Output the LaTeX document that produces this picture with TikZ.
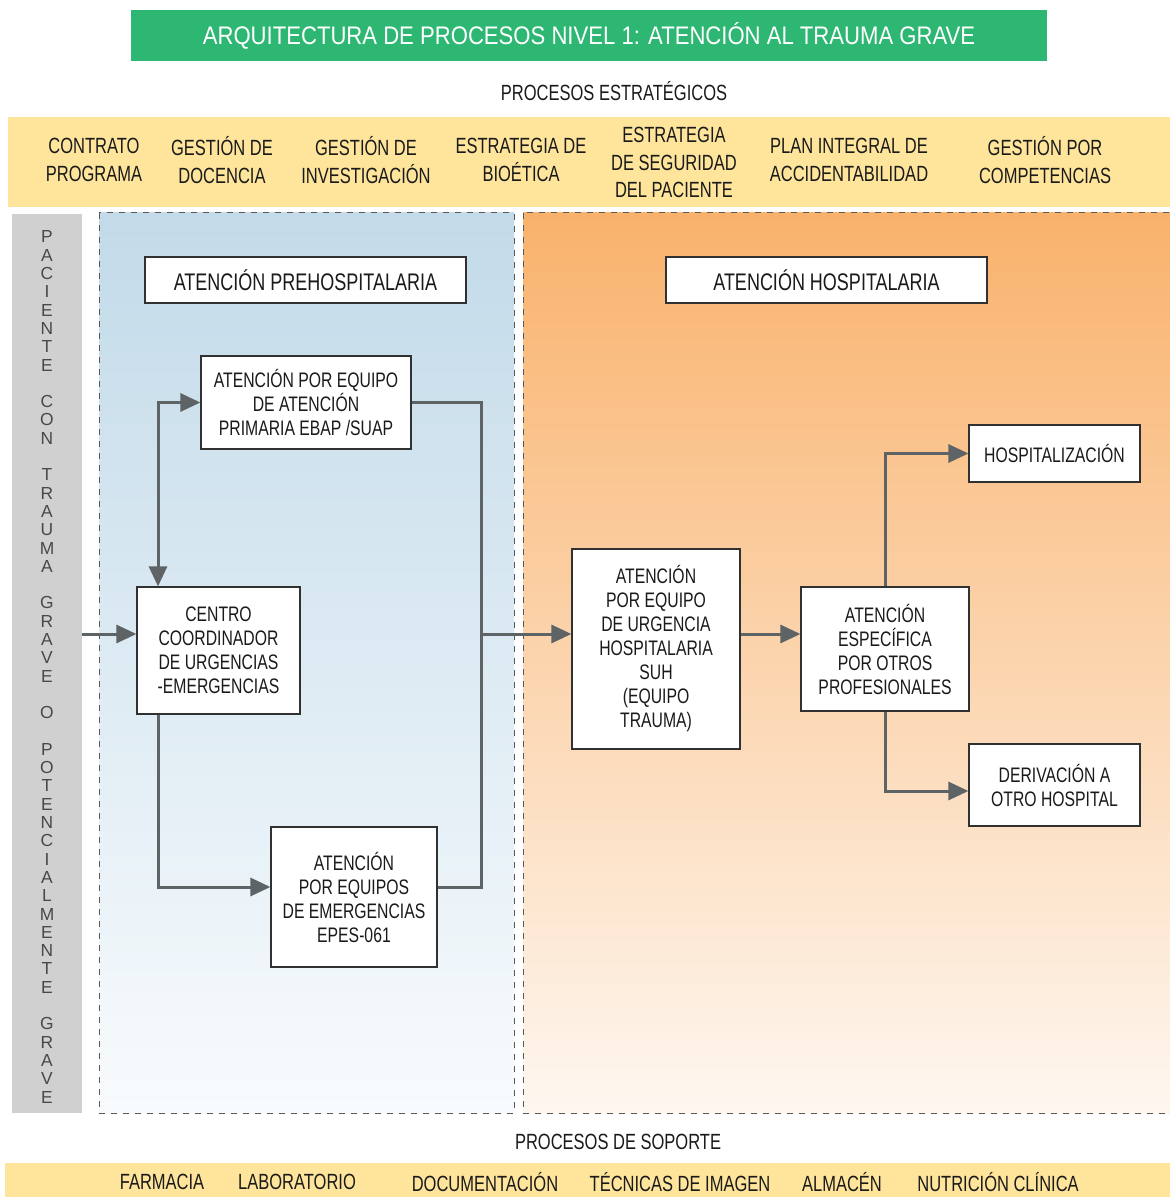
\documentclass[tikz,border=0pt]{standalone}
\usepackage{fontspec}
\setmainfont[FakeStretch=0.75]{Liberation Sans}
\newfontfamily\tirafont{Liberation Sans}
\newfontfamily\titfont[FakeStretch=0.87]{Liberation Sans}
\usetikzlibrary{arrows.meta}
\definecolor{verdetit}{HTML}{2DB773}
\definecolor{amarillo}{HTML}{FEE59B}
\definecolor{grisfranja}{HTML}{D0D0D0}
\definecolor{azul}{HTML}{C2DAE9}
\definecolor{azulclaro}{HTML}{F8FBFD}
\definecolor{naranja}{HTML}{F9B26C}
\definecolor{naranjaclaro}{HTML}{FEF7F0}
\definecolor{gris}{HTML}{5E6366}
\definecolor{texto}{HTML}{1A1A1A}
\tikzset{
  caja/.style={draw=texto!90, fill=white, line width=0.6pt, align=center, inner sep=1pt,
    text=texto, font=\fontsize{10.5}{12}\selectfont},
  cabecera/.style={caja, font=\fontsize{12}{14}\selectfont},
  item/.style={align=center, text=texto, font=\fontsize{11}{13.6}\selectfont},
  punta/.tip={Triangle[length=10pt,width=9pt]},
  linea/.style={draw=gris, line width=1.5pt},
  flecha/.style={linea, -punta},
  zona/.style={draw=gray!70!black, dashed, line width=0.5pt}
}
\begin{document}
\begin{tikzpicture}[x=0.5pt,y=-0.5pt]
\useasboundingbox (0,0) rectangle (1170,1197);
% titulo y procesos estrategicos
\node[fill=verdetit, minimum width=458pt, minimum height=25.5pt, inner sep=0, text=white,
  font={\titfont\fontsize{12.7}{14}\selectfont}] (titulo) at (589,35.5)
  {ARQUITECTURA DE PROCESOS NIVEL 1: ATENCIÓN AL TRAUMA GRAVE};
\node[item] (estrat) at (614,91) {PROCESOS ESTRATÉGICOS};
\fill[amarillo] (8,117) rectangle (1170,207);
\node[item] (contrato) at (94,160) {CONTRATO\\PROGRAMA};
\node[item] (docencia) at (222,160) {GESTIÓN DE\\DOCENCIA};
\node[item] (investig) at (366,160) {GESTIÓN DE\\INVESTIGACIÓN};
\node[item] (bioetica) at (521,160) {ESTRATEGIA DE\\BIOÉTICA};
\node[item] (seguridad) at (674,162.5) {ESTRATEGIA\\DE SEGURIDAD\\DEL PACIENTE};
\node[item] (accident) at (849,160) {PLAN INTEGRAL DE\\ACCIDENTABILIDAD};
\node[item] (compet) at (1045,160) {GESTIÓN POR\\COMPETENCIAS};
% zonas
\draw[zona, top color=azul, bottom color=azulclaro] (99,213) rectangle (514,1113);
\draw[zona, top color=naranja, bottom color=naranjaclaro] (523,213) rectangle (1170,1113);
\fill[grisfranja] (12,214) rectangle (82,1113);
\node[inner sep=0, align=center, text=texto!80, font={\tirafont\fontsize{8.7}{9.15}\selectfont}] (tira) at (47,667)
  {P\\A\\C\\I\\E\\N\\T\\E\\~\\C\\O\\N\\~\\T\\R\\A\\U\\M\\A\\~\\G\\R\\A\\V\\E\\~\\O\\~\\P\\O\\T\\E\\N\\C\\I\\A\\L\\M\\E\\N\\T\\E\\~\\G\\R\\A\\V\\E};
% cajas
\node[cabecera, minimum width=160.5pt, minimum height=23pt] (prehosp) at (305.5,280) {ATENCIÓN PREHOSPITALARIA};
\node[cabecera, minimum width=160.5pt, minimum height=23pt] (hosp) at (826.5,280) {ATENCIÓN HOSPITALARIA};
\node[caja, minimum width=105pt, minimum height=46.5pt] (ebap) at (306,402.5) {ATENCIÓN POR EQUIPO\\DE ATENCIÓN\\PRIMARIA EBAP /SUAP};
\node[caja, minimum width=81.5pt, minimum height=63.5pt] (cecu) at (218.5,650.5) {CENTRO\\COORDINADOR\\DE URGENCIAS\\-EMERGENCIAS};
\node[caja, minimum width=83pt, minimum height=70pt] (epes) at (354,897) {ATENCIÓN\\POR EQUIPOS\\DE EMERGENCIAS\\EPES-061};
\node[caja, minimum width=84pt, minimum height=100pt] (suh) at (656,649) {ATENCIÓN\\POR EQUIPO\\DE URGENCIA\\HOSPITALARIA\\SUH\\(EQUIPO\\TRAUMA)};
\node[caja, minimum width=84pt, minimum height=62pt] (espec) at (885,649) {ATENCIÓN\\ESPECÍFICA\\POR OTROS\\PROFESIONALES};
\node[caja, minimum width=85.5pt, minimum height=28.5pt] (hospit) at (1054.5,453.5) {HOSPITALIZACIÓN};
\node[caja, minimum width=85.5pt, minimum height=41pt] (deriv) at (1054.5,785) {DERIVACIÓN A\\OTRO HOSPITAL};
% conectores
\coordinate (enlace) at (481,634);
\coordinate (izq) at (158,634);
\coordinate (abajo) at (158,887);
\draw[flecha] (82,634) -- (cecu.west |- enlace);
\draw[linea, punta-punta] (cecu.north -| izq) |- (ebap.west);
\draw[flecha] (cecu.south -| izq) -- (abajo) -- (epes.west |- abajo);
\draw[linea] (ebap.east) -| (enlace |- abajo) -- (epes.east |- abajo);
\draw[flecha] (enlace) -- (suh.west |- enlace);
\draw[flecha] (suh.east |- enlace) -- (espec.west |- enlace);
\draw[flecha] (espec.north) |- (hospit.west);
\draw[flecha] (espec.south) |- ([yshift=-3pt]deriv.west);
% procesos de soporte
\node[item] (soporte) at (618,1142) {PROCESOS DE SOPORTE};
\fill[amarillo] (5,1163) rectangle (1170,1197);
\node[item] (farmacia) at (162,1182) {FARMACIA};
\node[item] (laborat) at (297,1182) {LABORATORIO};
\node[item] (document) at (485,1182) {DOCUMENTACIÓN};
\node[item] (imagen) at (680,1182) {TÉCNICAS DE IMAGEN};
\node[item] (almacen) at (842,1182) {ALMACÉN};
\node[item] (nutricion) at (998,1182) {NUTRICIÓN CLÍNICA};
\end{tikzpicture}
\end{document}
